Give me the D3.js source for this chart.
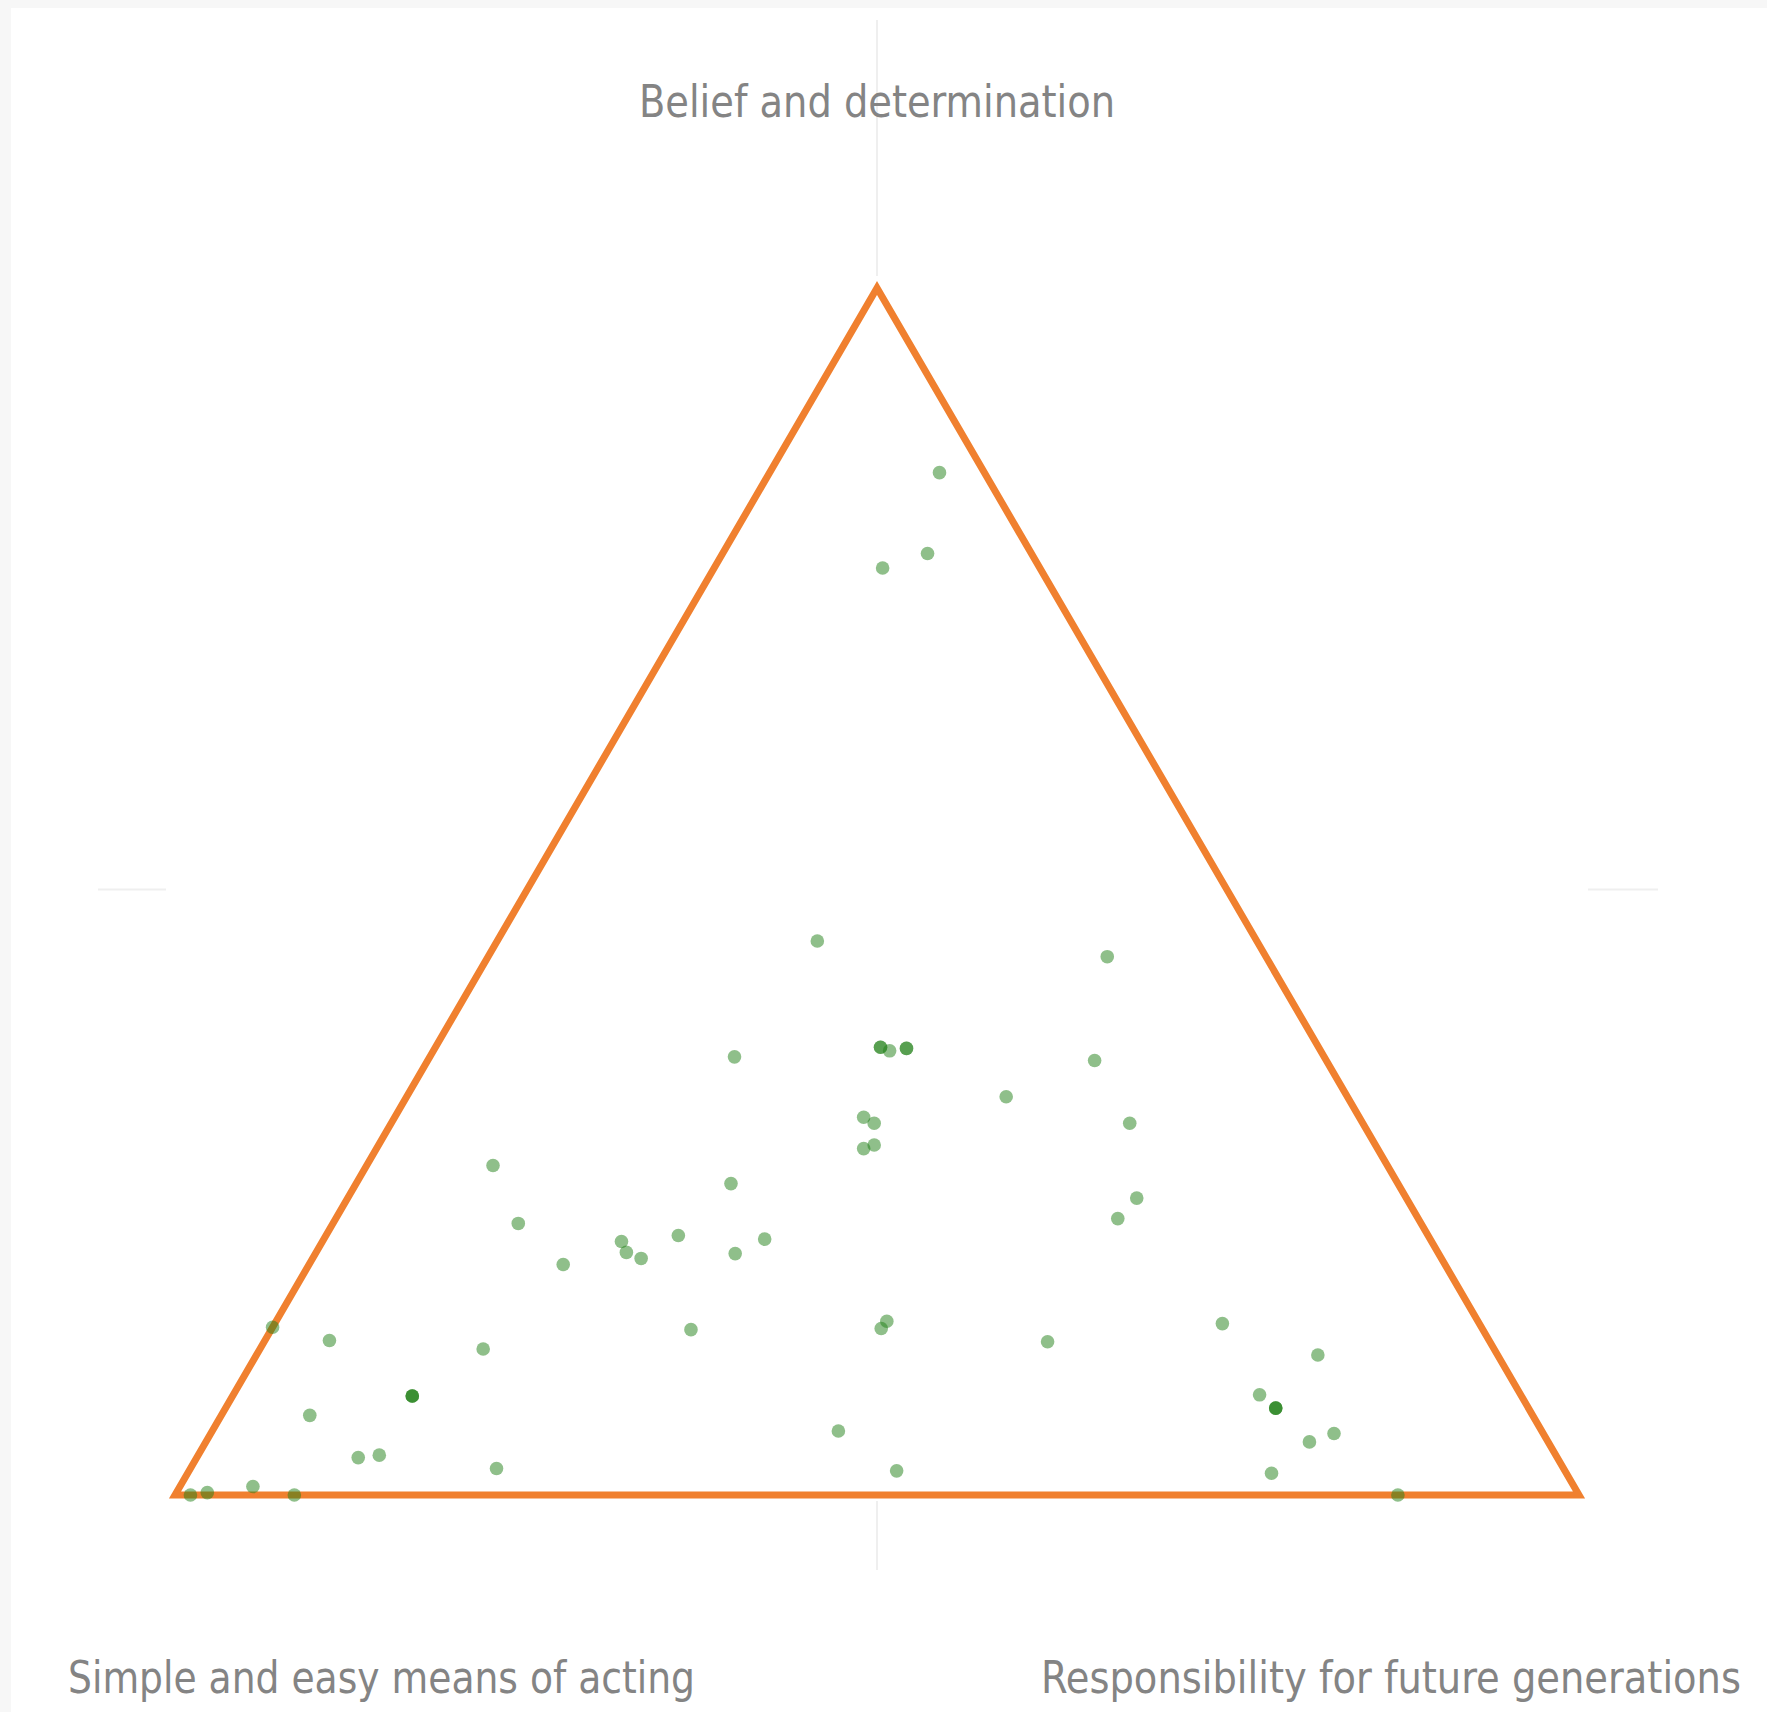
<!DOCTYPE html>
<html>
<head>
<meta charset="utf-8">
<script src="https://cdn.jsdelivr.net/npm/d3@7"></script>
<style>
    html, body { margin: 0; padding: 0; background: #f7f7f7; }
    svg { display: block; }
    .label { fill: #848484; font-family: "Liberation Sans Narrow", "DejaVu Sans Condensed", "Open Sans", sans-serif; font-size: 44px; }
</style>
</head>
<body>
<svg id="ternary_svg"></svg>
<script>
(function() {
    'use strict';

    var width = 1767,
        height = 1712;

    // axis titles, one per corner
    var axisLabels = ['Belief and determination', 'Simple and easy means of acting', 'Responsibility for future generations'];

    // shares (%) of each answer
    var belief = [84.7, 78.0, 76.8, 45.9, 44.6, 37.1, 37.1, 36.8, 37.0, 37.0,
                  36.3, 36.0, 33.0, 31.3, 30.8, 30.8, 29.0, 28.7, 27.3, 25.8,
                  24.6, 22.9, 22.5, 21.5, 21.2, 21.0, 20.1, 19.6, 20.0, 19.1,
                  13.9, 12.8, 12.1, 8.2, 8.2, 8.2, 6.6, 3.1, 3.3, 2.2,
                  0.0, 0.2, 0.7, 0.0, 13.7, 14.4, 13.8, 5.3, 2.0, 12.7,
                  14.2, 11.6, 8.3, 7.2, 7.2, 7.2, 5.1, 4.4, 1.8, 0.0];
    var simple = [3.2, 7.4, 11.2, 31.3, 11.3, 31.2, 31.2, 30.7, 29.4, 29.4,
                  42.0, 16.5, 24.3, 35.3, 34.8, 16.6, 35.7, 36.6, 63.7, 47.5,
                  19.2, 21.4, 64.3, 53.4, 47.4, 57.7, 57.8, 57.0, 50.1, 62.8,
                  86.1, 82.6, 72.0, 79.0, 79.0, 79.0, 87.1, 85.4, 83.8, 76.0,
                  98.9, 97.6, 94.1, 91.5, 56.4, 42.1, 42.8, 50.1, 47.6, 31.5,
                  18.3, 12.8, 18.6, 18.0, 18.0, 18.0, 14.9, 17.0, 21.0, 12.9];
    var responsibility = [12.1, 14.6, 12.0, 22.8, 44.1, 31.7, 31.7, 32.5, 33.6, 33.6,
                  21.7, 47.5, 42.7, 33.4, 34.4, 52.6, 35.3, 34.7, 9.0, 26.7,
                  56.2, 55.7, 13.2, 25.1, 31.4, 21.3, 22.1, 23.4, 29.9, 18.1,
                  0.0, 4.6, 15.9, 12.8, 12.8, 12.8, 6.3, 11.5, 12.9, 21.8,
                  1.1, 2.2, 5.2, 8.5, 29.9, 43.5, 43.4, 44.6, 50.4, 55.8,
                  67.5, 75.6, 73.1, 74.8, 74.8, 74.8, 80.0, 78.6, 77.2, 87.1];

    var data = belief.map(function(d, i) {
        return {a: d, b: simple[i], c: responsibility[i]};
    });

    var svg = d3.select("svg#ternary_svg")
        .attr("width", width)
        .attr("height", height);

    // white paper
    svg.append("rect")
        .attr("x", 11)
        .attr("y", 8)
        .attr("width", width - 11)
        .attr("height", height - 8)
        .attr("fill", "#ffffff");

    // horizontal position is c + a/2, vertical is a
    var x = d3.scaleLinear().domain([0, 100]).range([175, 1579]),
        y = d3.scaleLinear().domain([0, 100]).range([1495, 288]);

    function px(d) { return x(d.c + d.a / 2); }
    function py(d) { return y(d.a); }

    // faint centre lines behind the plot area
    var grid = svg.append("g")
        .attr("class", "grid")
        .attr("stroke", "#efefef")
        .attr("stroke-width", 2);
    grid.append("line")
        .attr("x1", x(50)).attr("x2", x(50))
        .attr("y1", 20).attr("y2", 1570);
    grid.append("line")
        .attr("x1", 98).attr("x2", 1658)
        .attr("y1", y(50) - 2).attr("y2", y(50) - 2);

    svg.append("rect")
        .attr("x", 166)
        .attr("y", 276)
        .attr("width", 1588 - 166)
        .attr("height", 1501 - 276)
        .attr("fill", "#ffffff");

    // triangle frame
    var corners = [{a: 100, b: 0, c: 0}, {a: 0, b: 100, c: 0}, {a: 0, b: 0, c: 100}];
    var frame = d3.line().x(px).y(py);
    svg.append("path")
        .attr("d", frame(corners) + "Z")
        .attr("fill", "none")
        .attr("stroke", "#f0802f")
        .attr("stroke-width", 7)
        .attr("stroke-linejoin", "miter");

    // answers
    svg.append("g")
        .attr("class", "points")
        .selectAll("circle")
        .data(data)
        .enter().append("circle")
        .attr("cx", px)
        .attr("cy", py)
        .attr("r", 6.8)
        .attr("fill", "rgb(31,127,21)")
        .attr("fill-opacity", 0.5);

    // corner titles
    var labels = svg.append("g").attr("class", "labels");
    labels.append("text")
        .attr("class", "label")
        .attr("x", x(50))
        .attr("y", 117)
        .attr("text-anchor", "middle")
        .attr("textLength", 476)
        .attr("lengthAdjust", "spacingAndGlyphs")
        .text(axisLabels[0]);
    labels.append("text")
        .attr("class", "label")
        .attr("x", 68)
        .attr("y", 1693)
        .attr("textLength", 627)
        .attr("lengthAdjust", "spacingAndGlyphs")
        .text(axisLabels[1]);
    labels.append("text")
        .attr("class", "label")
        .attr("x", 1041)
        .attr("y", 1693)
        .attr("textLength", 700)
        .attr("lengthAdjust", "spacingAndGlyphs")
        .text(axisLabels[2]);
})();
</script>
</body>
</html>
